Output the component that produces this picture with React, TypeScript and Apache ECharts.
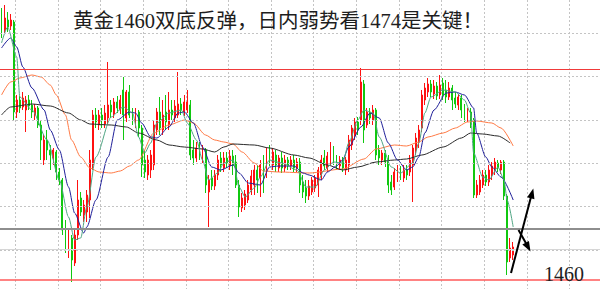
import React, { useEffect, useRef } from "react";
import * as echarts from "echarts";

// 197 time slots on the x axis (candles fill the first 169)
const categories = Array.from({ length: 197 }, (_, i) => String(i));

const opens = [
  1486.5, 1485.0, 1486.0, 1485.4, 1485.8, 1476.8, 1478.0, 1477.3, 1477.0, 1478.0,
  1477.5, 1476.5, 1477.2, 1475.5, 1472.0, 1474.0, 1473.0, 1472.2, 1472.8, 1470.8,
  1470.0, 1465.2, 1463.5, 1464.2, 1461.7, 1464.5, 1468.2, 1466.5, 1466.8, 1468.0,
  1471.5, 1476.5, 1475.5, 1476.5, 1475.6, 1476.2, 1477.5, 1476.6, 1477.8, 1477.0,
  1479.0, 1476.2, 1478.8, 1476.8, 1476.0, 1476.8, 1475.2, 1472.0, 1470.5, 1471.0,
  1471.5, 1475.0, 1476.8, 1475.0, 1476.8, 1475.5, 1477.0, 1476.2, 1476.5, 1477.6,
  1476.8, 1477.0, 1477.5, 1473.0, 1472.2, 1473.2, 1472.2, 1473.0, 1468.8, 1470.2,
  1469.4, 1470.5, 1472.2, 1471.2, 1472.2, 1471.4, 1472.4, 1471.8, 1469.5, 1467.2,
  1467.5, 1468.0, 1469.0, 1469.5, 1471.0, 1470.2, 1472.0, 1470.8, 1472.8, 1471.5,
  1472.5, 1471.2, 1472.2, 1471.2, 1472.0, 1471.4, 1472.0, 1471.2, 1471.8, 1469.8,
  1469.2, 1468.4, 1468.8, 1469.2, 1469.5, 1470.5, 1472.2, 1471.2, 1472.0, 1473.0,
  1472.2, 1471.4, 1472.0, 1471.0, 1471.5, 1473.5, 1474.5, 1475.8, 1476.0, 1479.6,
  1475.5, 1476.8, 1476.0, 1477.0, 1473.0, 1472.0, 1472.7, 1472.0, 1469.8, 1469.3,
  1470.2, 1471.0, 1470.2, 1471.0, 1470.8, 1471.5, 1473.0, 1473.8, 1475.2, 1478.0,
  1478.8, 1479.6, 1478.6, 1479.4, 1478.5, 1479.7, 1479.0, 1478.3, 1479.2, 1478.2,
  1477.5, 1478.2, 1477.2, 1476.2, 1476.8, 1476.0, 1468.5, 1468.8, 1469.5, 1470.5,
  1469.8, 1470.5, 1471.0, 1471.7, 1471.0, 1471.8, 1468.4, 1462.2, 1462.5,
];

const closes = [
  1484.8, 1486.2, 1485.3, 1486.0, 1476.8, 1478.0, 1477.2, 1478.2, 1478.0, 1477.4,
  1476.8, 1477.2, 1475.5, 1474.0, 1474.0, 1473.0, 1472.5, 1473.0, 1470.8, 1470.0,
  1465.0, 1463.5, 1464.5, 1462.0, 1464.5, 1468.0, 1466.8, 1467.5, 1468.5, 1472.0,
  1476.5, 1475.8, 1476.5, 1476.0, 1476.7, 1477.5, 1476.8, 1477.8, 1477.2, 1478.0,
  1476.5, 1478.8, 1476.5, 1476.2, 1476.8, 1475.2, 1471.5, 1470.8, 1472.0, 1472.5,
  1475.5, 1476.8, 1475.2, 1476.5, 1475.8, 1477.0, 1476.5, 1477.4, 1477.6, 1477.0,
  1477.8, 1477.8, 1472.5, 1472.2, 1473.2, 1472.5, 1473.0, 1469.5, 1470.0, 1469.4,
  1470.5, 1472.0, 1471.5, 1472.2, 1471.7, 1472.4, 1471.5, 1469.5, 1467.3, 1468.2,
  1468.6, 1469.5, 1470.4, 1471.0, 1470.0, 1471.5, 1469.0, 1472.5, 1471.8, 1472.8,
  1471.5, 1472.2, 1471.2, 1472.0, 1471.4, 1472.0, 1471.2, 1471.8, 1469.5, 1468.8,
  1468.4, 1469.4, 1470.0, 1470.2, 1471.0, 1472.0, 1471.4, 1472.4, 1473.2, 1472.0,
  1471.4, 1472.0, 1471.2, 1472.0, 1474.0, 1475.2, 1475.8, 1475.0, 1479.8, 1475.0,
  1476.8, 1476.2, 1477.0, 1472.5, 1472.2, 1472.7, 1471.8, 1469.5, 1469.0, 1470.8,
  1471.0, 1470.4, 1471.0, 1470.5, 1472.0, 1473.2, 1474.2, 1475.0, 1478.5, 1479.2,
  1479.6, 1478.8, 1479.4, 1478.4, 1479.5, 1478.5, 1478.3, 1479.2, 1478.0, 1477.6,
  1478.3, 1477.0, 1476.2, 1476.8, 1475.8, 1468.5, 1469.5, 1470.0, 1470.5, 1469.8,
  1471.0, 1471.4, 1471.8, 1471.2, 1471.8, 1468.4, 1461.8, 1463.2, 1463.3,
];

const lows = [
  1484.2, 1484.7, 1484.8, 1485.0, 1476.0, 1476.2, 1476.7, 1477.0, 1474.8, 1477.0,
  1476.2, 1476.0, 1475.2, 1472.0, 1471.5, 1472.0, 1471.0, 1471.5, 1470.0, 1469.5,
  1464.5, 1462.7, 1462.2, 1459.8, 1461.4, 1464.0, 1466.4, 1465.8, 1465.8, 1466.2,
  1471.0, 1475.2, 1475.0, 1475.2, 1475.2, 1475.5, 1476.2, 1476.2, 1476.7, 1476.6,
  1474.0, 1475.8, 1476.2, 1475.5, 1475.2, 1474.3, 1470.3, 1470.2, 1470.0, 1470.2,
  1471.0, 1474.5, 1474.5, 1474.5, 1475.0, 1475.0, 1476.0, 1475.8, 1476.2, 1476.5,
  1476.4, 1476.7, 1472.0, 1471.5, 1471.8, 1472.0, 1471.7, 1468.7, 1465.3, 1469.0,
  1469.0, 1470.0, 1470.8, 1470.8, 1471.2, 1471.0, 1470.5, 1469.2, 1466.3, 1466.8,
  1467.0, 1467.7, 1468.5, 1468.5, 1468.7, 1468.3, 1468.7, 1470.2, 1471.4, 1471.0,
  1470.8, 1470.8, 1470.7, 1470.8, 1471.0, 1471.0, 1470.8, 1470.8, 1468.7, 1468.2,
  1467.7, 1468.0, 1468.5, 1468.8, 1468.3, 1470.0, 1471.0, 1470.8, 1471.5, 1471.5,
  1471.0, 1471.0, 1470.8, 1470.5, 1470.8, 1473.0, 1474.0, 1474.5, 1475.5, 1473.7,
  1475.2, 1475.6, 1475.5, 1472.0, 1471.5, 1471.5, 1471.3, 1468.7, 1468.5, 1469.0,
  1469.8, 1470.0, 1469.8, 1470.0, 1470.4, 1467.8, 1472.5, 1473.2, 1474.8, 1477.5,
  1478.3, 1478.3, 1478.1, 1478.0, 1478.1, 1478.0, 1477.7, 1478.0, 1477.0, 1477.2,
  1477.0, 1476.2, 1475.8, 1475.8, 1475.2, 1468.2, 1468.2, 1468.5, 1469.2, 1469.4,
  1469.4, 1470.0, 1470.5, 1470.8, 1470.6, 1468.0, 1460.5, 1461.8, 1462.0,
];

const highs = [
  1487.2, 1487.5, 1486.8, 1486.6, 1486.0, 1478.5, 1478.4, 1478.8, 1478.4, 1478.5,
  1478.0, 1477.6, 1477.4, 1476.0, 1474.5, 1475.0, 1473.5, 1473.2, 1473.0, 1471.2,
  1470.2, 1466.0, 1465.2, 1464.5, 1465.0, 1470.0, 1468.8, 1468.0, 1469.0, 1473.0,
  1477.0, 1477.2, 1477.0, 1477.2, 1477.5, 1481.8, 1478.0, 1478.2, 1478.4, 1478.5,
  1480.3, 1479.0, 1479.5, 1477.2, 1477.2, 1477.0, 1475.5, 1473.0, 1472.5, 1473.0,
  1476.0, 1477.2, 1478.3, 1478.0, 1478.5, 1478.8, 1478.0, 1478.0, 1480.8, 1478.2,
  1478.5, 1479.0, 1478.0, 1474.0, 1473.8, 1473.8, 1473.5, 1473.2, 1470.5, 1471.0,
  1471.0, 1472.5, 1472.8, 1472.8, 1472.8, 1473.0, 1473.0, 1472.5, 1470.0, 1468.7,
  1469.0, 1470.0, 1471.0, 1471.5, 1471.5, 1472.0, 1472.5, 1473.2, 1473.5, 1473.2,
  1473.0, 1472.5, 1472.8, 1472.5, 1472.3, 1472.4, 1472.5, 1472.2, 1472.2, 1470.5,
  1470.0, 1470.0, 1470.3, 1470.5, 1471.3, 1472.5, 1473.0, 1472.8, 1473.8, 1473.4,
  1472.5, 1472.4, 1472.3, 1472.3, 1474.5, 1475.5, 1476.2, 1476.3, 1481.2, 1480.0,
  1477.2, 1477.2, 1477.5, 1477.2, 1473.5, 1473.0, 1473.0, 1472.5, 1470.5, 1471.2,
  1471.5, 1471.4, 1471.5, 1471.5, 1472.5, 1473.5, 1474.7, 1475.5, 1479.0, 1479.7,
  1480.2, 1480.0, 1480.0, 1479.8, 1480.5, 1480.2, 1480.0, 1479.8, 1479.5, 1478.8,
  1478.6, 1478.5, 1477.6, 1477.2, 1477.2, 1476.2, 1470.0, 1470.5, 1471.0, 1471.0,
  1471.5, 1471.8, 1472.2, 1472.0, 1472.0, 1472.0, 1468.6, 1464.2, 1463.8,
];

// moving averages as [slot, price]
const maFast = [
  [0, 1483.7], [2, 1485.3], [5, 1482.3], [6, 1478.3], [10, 1477.0], [15, 1474.0],
  [19, 1470.0], [22, 1466.3], [24, 1464.0], [26, 1464.2], [28, 1467.3], [31, 1472.3],
  [36, 1476.3], [40, 1477.3], [43, 1476.7], [45, 1474.3], [47, 1472.7], [49, 1473.7],
  [51, 1475.7], [55, 1476.7], [59, 1477.0], [61, 1475.7], [64, 1474.0], [66, 1472.0],
  [68, 1470.0], [71, 1470.7], [73, 1471.7], [76, 1472.0], [78, 1469.3], [80, 1468.3],
  [83, 1469.2], [85, 1470.3], [88, 1472.0], [92, 1471.7], [97, 1471.0], [100, 1469.3],
  [103, 1469.3], [106, 1471.0], [109, 1471.8], [112, 1471.7], [114, 1473.7], [117, 1476.0],
  [119, 1477.0], [122, 1476.7], [124, 1474.3], [128, 1471.3], [131, 1470.7], [135, 1471.7],
  [137, 1473.7], [139, 1476.7], [141, 1478.3], [145, 1479.0], [149, 1478.8], [152, 1478.0],
  [154, 1476.7], [155, 1472.7], [158, 1470.3], [160, 1470.0], [163, 1471.3], [165, 1470.0],
  [166, 1468.0], [168, 1465.3],
];

const maMid = [
  [0, 1483.2], [3, 1484.2], [5, 1483.3], [7, 1481.3], [10, 1479.2], [14, 1477.0],
  [16, 1475.0], [19, 1473.0], [22, 1469.3], [24, 1466.7], [27, 1464.7], [28, 1465.3],
  [31, 1468.0], [35, 1472.3], [38, 1476.0], [42, 1476.8], [44, 1476.7], [46, 1475.7],
  [49, 1474.3], [51, 1474.2], [55, 1475.3], [58, 1476.7], [60, 1476.8], [63, 1475.7],
  [66, 1473.3], [69, 1471.3], [72, 1471.0], [76, 1471.5], [78, 1470.7], [81, 1469.7],
  [85, 1469.5], [88, 1471.3], [91, 1471.4], [96, 1471.4], [99, 1470.7], [101, 1470.5],
  [105, 1470.0], [107, 1470.8], [110, 1471.4], [112, 1472.0], [114, 1473.3], [118, 1475.3],
  [121, 1476.7], [124, 1476.2], [127, 1473.7], [130, 1472.0], [133, 1471.0], [135, 1471.3],
  [137, 1472.3], [139, 1474.7], [142, 1477.0], [146, 1478.7], [149, 1478.8], [152, 1478.5],
  [155, 1477.2], [156, 1474.7], [159, 1472.3], [161, 1471.3], [164, 1470.3], [168, 1468.0],
];

const maSlow = [
  [0, 1478.5], [3, 1479.8], [6, 1480.2], [10, 1480.5], [13, 1480.3], [16, 1479.5],
  [18, 1478.5], [21, 1476.5], [23, 1474.0], [26, 1472.3], [29, 1471.2], [32, 1470.8],
  [36, 1470.7], [39, 1470.9], [42, 1471.4], [45, 1472.0], [50, 1474.7], [55, 1475.5],
  [60, 1476.0], [63, 1475.7], [67, 1474.5], [70, 1474.0], [73, 1473.8], [76, 1473.6],
  [79, 1472.8], [83, 1471.7], [86, 1470.9], [91, 1470.8], [101, 1470.7], [112, 1471.1],
  [119, 1472.1], [123, 1473.1], [129, 1473.5], [133, 1473.4], [137, 1473.8], [140, 1474.3],
  [145, 1474.7], [149, 1475.2], [153, 1475.8], [156, 1475.9], [161, 1475.7], [164, 1475.2],
  [168, 1473.4],
];

const maLong = [
  [0, 1476.5], [3, 1477.3], [10, 1477.6], [16, 1477.4], [22, 1476.7], [26, 1476.0],
  [29, 1475.6], [36, 1475.5], [41, 1475.3], [45, 1474.7], [51, 1474.0], [55, 1473.5],
  [60, 1473.3], [66, 1473.1], [70, 1472.8], [73, 1473.3], [76, 1473.6], [83, 1473.5],
  [88, 1473.2], [96, 1472.5], [101, 1472.2], [107, 1471.5], [112, 1471.0], [117, 1471.3],
  [123, 1471.8], [129, 1472.0], [133, 1472.1], [138, 1472.5], [145, 1473.3], [151, 1474.2],
  [154, 1474.7], [158, 1474.6], [163, 1474.4], [167, 1473.7],
];

const gridPrices = [1484.67, 1480.33, 1476.0, 1471.67, 1467.33, 1463.0];
const resistancePrice = 1481.1;
const supportPrice = 1465.1;
const minorPrice = 1463.1;
const targetPrice = 1460.0;

const titleText = "黄金1460双底反弹，日内弱势看1474是关键！";
const targetLabel = "1460";

function arrowHead(tx: number, ty: number, fx: number, fy: number, len: number, half: number) {
  const dx = tx - fx;
  const dy = ty - fy;
  const d = Math.hypot(dx, dy);
  const ux = dx / d;
  const uy = dy / d;
  const bx = tx - ux * len;
  const by = ty - uy * len;
  return [
    [tx, ty],
    [bx - uy * half, by + ux * half],
    [bx + uy * half, by - ux * half],
  ];
}

export default function App() {
  const ref = useRef<HTMLDivElement>(null);
  useEffect(() => {
    const chart = echarts.init(ref.current!, null, { renderer: "svg" });
    const candles = opens.map((o, i) => [o, closes[i], lows[i], highs[i]]);
    const maLine = (name: string, data: number[][], color: string, width: number) => ({
      name,
      type: "line",
      data,
      showSymbol: false,
      symbol: "none",
      smooth: 0.25,
      smoothMonotone: "x",
      z: 4,
      silent: true,
      lineStyle: { color, width },
    });
    chart.setOption({
      animation: false,
      backgroundColor: "#ffffff",
      grid: { left: 0, right: 0, top: 0, bottom: 0 },
      xAxis: {
        type: "category",
        data: categories,
        boundaryGap: true,
        axisLine: { show: false },
        axisTick: { show: false },
        axisLabel: { show: false },
        splitLine: {
          show: true,
          interval: (index: number) => (index - 5) % 14 === 0,
          lineStyle: { color: "#c4c4c4", type: [2, 2], width: 1 },
        },
      },
      yAxis: {
        type: "value",
        min: 1459.1,
        max: 1488.0,
        axisLine: { show: false },
        axisTick: { show: false },
        axisLabel: { show: false },
        splitLine: { show: false },
      },
      series: [
        {
          type: "line",
          data: [],
          z: 1,
          silent: true,
          markLine: {
            symbol: "none",
            silent: true,
            animation: false,
            label: { show: false },
            lineStyle: { color: "#c4c4c4", type: [2, 2], width: 1 },
            data: gridPrices.map((v) => ({ yAxis: v })),
          },
        },
        {
          type: "line",
          data: [],
          z: 2,
          silent: true,
          markLine: {
            symbol: "none",
            silent: true,
            animation: false,
            label: { show: false },
            data: [
              { yAxis: resistancePrice, lineStyle: { color: "#f03a3a", width: 1.2, type: "solid" } },
              { yAxis: supportPrice, lineStyle: { color: "#8e8e8e", width: 2, type: "solid" } },
              { yAxis: minorPrice, lineStyle: { color: "#d6d6d6", width: 1.2, type: "solid" } },
              { yAxis: targetPrice, lineStyle: { color: "#ff5a5a", width: 1.5, type: "solid" } },
            ],
          },
        },
        {
          type: "candlestick",
          data: candles,
          z: 3,
          barWidth: 1.4,
          silent: true,
          itemStyle: {
            color: "#ff1010",
            color0: "#10c810",
            borderColor: "#ff1010",
            borderColor0: "#10c810",
            borderWidth: 1,
          },
        },
        maLine("slow", maSlow, "#ff7a45", 1),
        maLine("long", maLong, "#2a2a2a", 1),
        maLine("mid", maMid, "#1f1f99", 1),
        maLine("fast", maFast, "#4fa583", 1),
      ],
      graphic: [
        {
          type: "text",
          x: 73,
          y: 20.5,
          z: 10,
          style: {
            text: titleText,
            fill: "#1e1e1e",
            font: "20.5px 'Liberation Serif', 'Noto Sans CJK SC', serif",
            textAlign: "left",
            textVerticalAlign: "middle",
            align: "left",
            verticalAlign: "middle",
          },
        },
        {
          type: "text",
          x: 544,
          y: 273.5,
          z: 10,
          style: {
            text: targetLabel,
            fill: "#1e1e1e",
            font: "20px 'Liberation Serif', serif",
            textAlign: "left",
            textVerticalAlign: "middle",
            align: "left",
            verticalAlign: "middle",
          },
        },
        {
          type: "line",
          z: 10,
          shape: { x1: 511, y1: 273, x2: 531.5, y2: 195 },
          style: { stroke: "#000", lineWidth: 2 },
        },
        {
          type: "polygon",
          z: 10,
          shape: { points: arrowHead(533.3, 188.5, 511, 273, 10, 3.8) },
          style: { fill: "#000" },
        },
        {
          type: "line",
          z: 10,
          shape: { x1: 518.5, y1: 230, x2: 527, y2: 245 },
          style: { stroke: "#000", lineWidth: 2 },
        },
        {
          type: "polygon",
          z: 10,
          shape: { points: arrowHead(530.5, 251.5, 518.5, 230, 10, 3.8) },
          style: { fill: "#000" },
        },
      ],
    });
    return () => chart.dispose();
  }, []);
  return (
    <div
      ref={ref}
      style={{ position: "fixed", left: 0, top: 0, width: 600, height: 289, background: "#fff" }}
    />
  );
}
